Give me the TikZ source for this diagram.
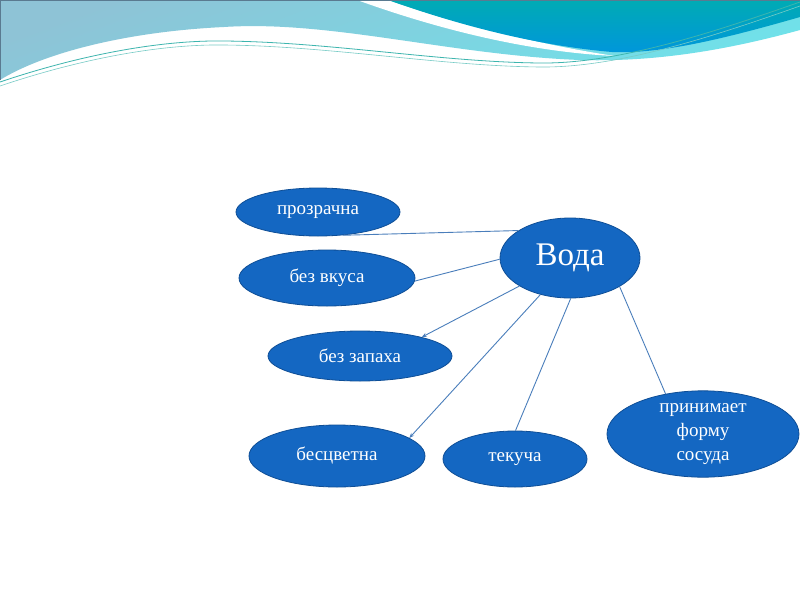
\documentclass[tikz,border=0pt]{standalone}
\usepackage{fontspec}
\setmainfont{Liberation Serif}
\usetikzlibrary{arrows.meta,shapes.geometric}
\definecolor{nodeblue}{HTML}{1467C2}
\definecolor{nodeedge}{HTML}{0E4E96}
\definecolor{linkblue}{HTML}{4A7EBB}
\definecolor{lightA}{HTML}{8EC3D6}
\definecolor{lightB}{HTML}{6FE2EA}
\definecolor{darkA}{HTML}{00ABB4}
\definecolor{darkB}{HTML}{0096DC}
\definecolor{wave}{HTML}{3DB5AE}
\definecolor{frame}{HTML}{5A7A90}
\tikzset{
  bubble/.style={ellipse, fill=nodeblue, draw=nodeedge, line width=0.8pt, inner sep=0pt,
    text=white, align=center, font=\fontsize{19}{24}\selectfont},
  link/.style={draw=linkblue, line width=0.9pt},
  tiplink/.style={link, -{Stealth[length=5pt,width=4pt]}}
}
\begin{document}
\begin{tikzpicture}[x=1pt,y=-1pt]
\useasboundingbox (0,0) rectangle (800,600);
\fill[white] (0,0) rectangle (800,600);
% banner
\shade[top color=lightA, bottom color=lightB, shading angle=20]
  (0,0) -- (800,0) -- (800,30)
  .. controls (720,52) and (650,62) .. (580,60)
  .. controls (450,55) and (330,20) .. (224,27)
  .. controls (120,32) and (40,55) .. (0,80) -- cycle;
\fill[white] (357,0) .. controls (440,30) and (530,52) .. (615,56)
  .. controls (540,45) and (450,22) .. (388,0) -- cycle;
\shade[top color=darkA, bottom color=darkB]
  (388,0) -- (800,0) -- (800,17)
  .. controls (720,40) and (660,54) .. (612,52)
  .. controls (530,45) and (450,22) .. (388,0) -- cycle;
\draw[wave, line width=0.8pt] (0,82) .. controls (80,55) and (160,40) .. (224,41)
  .. controls (330,42) and (440,62) .. (540,63) .. controls (620,64) and (720,30) .. (800,2);
\draw[wave!70, line width=0.6pt] (0,86) .. controls (80,59) and (160,44) .. (224,45)
  .. controls (330,46) and (440,66) .. (540,67) .. controls (620,68) and (720,34) .. (800,6);
\draw[frame, line width=1pt] (0.5,80) -- (0.5,0.5) -- (800,0.5);
% nodes
\node[bubble, minimum width=140, minimum height=80, font=\fontsize{33}{38}\selectfont] (voda) at (570,258) {\raisebox{-4pt}{Вода}};
\node[bubble, minimum width=164, minimum height=48] (prozr) at (318,212) {прозрачна};
\node[bubble, minimum width=176, minimum height=56] (vkus) at (327,278) {\raisebox{-2pt}{без вкуса}};
\node[bubble, minimum width=184, minimum height=50] (zapah) at (360,356) {без запаха};
\node[bubble, minimum width=176, minimum height=62] (cvet) at (337,456) {бесцветна};
\node[bubble, minimum width=144, minimum height=56] (tek) at (515,459) {\raisebox{-2pt}{текуча}};
\node[bubble, minimum width=192, minimum height=82] (forma) at (703,434) {принимает\\форму\\сосуда};
% connectors
\draw[link] (voda.152) -- (prozr.317);
\draw[link] (voda.181) -- (vkus.358);
\draw[tiplink] (voda.209) -- (zapah.17);
\draw[tiplink] (voda.231) -- (cvet.14);
\draw[link] (voda.271) -- (tek.89);
\draw[link] (voda.330) -- (forma.133);
\end{tikzpicture}
\end{document}
